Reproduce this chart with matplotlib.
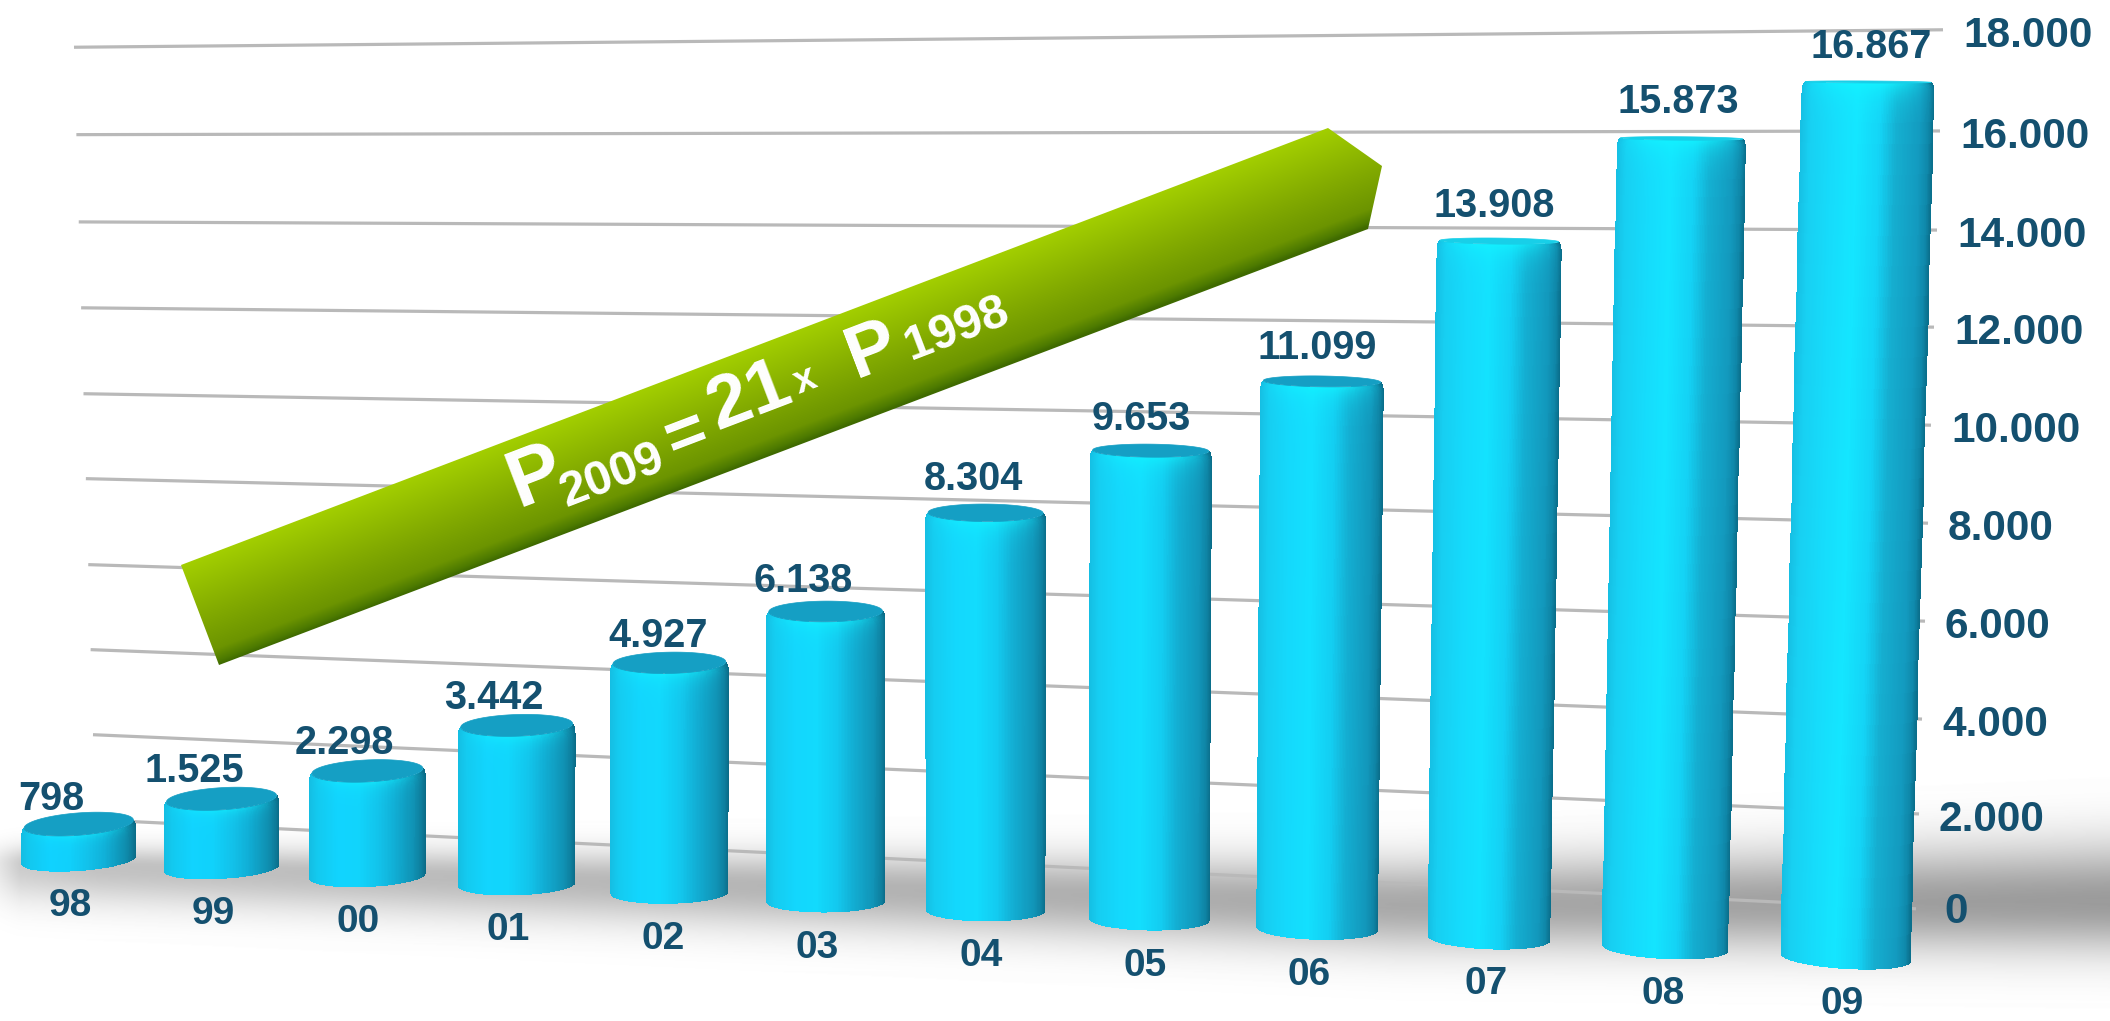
import numpy as np
import matplotlib
matplotlib.use("Agg")
import matplotlib.pyplot as plt
from matplotlib.colors import to_rgb
from matplotlib.patches import Polygon
from matplotlib.transforms import Transform

# ---------- data ----------
years = ["98", "99", "00", "01", "02", "03", "04", "05", "06", "07", "08", "09"]
values = [798, 1525, 2298, 3442, 4927, 6138, 8304, 9653, 11099, 13908, 15873, 16867]
value_labels = ["798", "1.525", "2.298", "3.442", "4.927", "6.138", "8.304", "9.653",
                "11.099", "13.908", "15.873", "16.867"]
axis_ticks = [0, 2000, 4000, 6000, 8000, 10000, 12000, 14000, 16000, 18000]
axis_tick_labels = ["0", "2.000", "4.000", "6.000", "8.000", "10.000", "12.000",
                    "14.000", "16.000", "18.000"]

# ---------- layout ----------
W, H = 2110, 1021
LABEL_DX = [-27, -27, -23, -23, -11, -22, -12, -9, -5, -5, -3, 3]
LABEL_DY = [25, 28, 28, 27, 27, 30, 34, 32, 33, 35, 36, 35]
CAT_DX = [-8, -8, -9, -8, -6, -8, -4, -4, -8, -2, -1, -3]
TEXT = "#14506f"
FONT = "Liberation Sans"
C = -0.011
A, B = 140.3, 78.5
WALL_LEFT_Y = [820, 735, 650, 565, 479, 394, 308, 222, 134.6, 47]
WALL_RIGHT_Y = [909, 814, 719, 621, 523, 425, 327, 230, 131, 30]


class BarProjection(Transform):
    """(category index, value) -> picture position in the perspective of the bars."""
    input_dims = output_dims = 2
    is_separable = False
    has_inverse = False

    def transform_non_affine(self, values):
        values = np.asarray(values, float)
        i, v = values[:, 0], values[:, 1]
        k = np.round(i)
        x = (A * i + B) / (1 + C * i) + np.maximum(0, k - 6.5) * 0.0003 * v
        base = 871 + 7.8 * k + 0.1 * k ** 2 - 11
        scale = 0.0450 + 0.0003 * k + 0.00003 * k ** 2
        return np.column_stack([x, base - scale * v])


class WallProjection(Transform):
    """(fraction along the wall, value) -> picture position of the slanted grid."""
    input_dims = output_dims = 2
    is_separable = False
    has_inverse = False

    def transform_non_affine(self, values):
        values = np.asarray(values, float)
        u, v = values[:, 0], values[:, 1]
        xl = 93 - (v - 2000) * 19 / 16000
        xr = 1916 + 0.0015 * v
        x = xl + u * (xr - xl)
        yl = np.interp(v, axis_ticks, WALL_LEFT_Y)
        yr = np.interp(v, axis_ticks, WALL_RIGHT_Y)
        return np.column_stack([x, yl + (x - 100) / 1820 * (yr - yl)])


def rgb_stops(stops, colors, u):
    arr = np.array([to_rgb(c) for c in colors])
    return np.stack([np.interp(u, stops, arr[:, n]) for n in range(3)], axis=-1)


fig = plt.figure(figsize=(W / 100, H / 100), dpi=100, facecolor="white")
ax = fig.add_axes([0, 0, 1, 1])
ax.set_axis_off()
bar_tr = BarProjection() + ax.transData
wall_tr = WallProjection() + ax.transData

# floor shadow
px, py = np.meshgrid(np.arange(W) + 0.5, np.arange(H) + 0.5)
amp = np.interp(px, [0, 20, 100, 2110], [0.10, 0.20, 0.24, 0.39])
yc = np.interp(px, [0, 1400, 2110], [864, 905, 902])
sig_t = np.interp(px, [0, 2110], [18, 58])
sig_b = np.interp(px, [0, 2110], [36, 50])
sig = np.where(py < yc, sig_t, sig_b)
grey = 1 - amp * np.exp(-((py - yc) / sig) ** 2)
ax.imshow(grey, cmap="gray", vmin=0, vmax=1, extent=(0, W, H, 0), aspect="auto",
          zorder=0, interpolation="bilinear")

# back wall grid
for t in axis_ticks:
    ax.plot([0, 1], [t, t], color="#b9b9b9", lw=2.3, transform=wall_tr, zorder=1,
            solid_capstyle="butt")
for t, lab in zip(axis_ticks, axis_tick_labels):
    ax.annotate(lab, xy=(1, t), xycoords=wall_tr,
                xytext=((20 if t else 28) * 0.72, (-6 if t else -3) * 0.72),
                textcoords="offset points", ha="left", va="center", fontsize=30.5,
                fontweight="bold", family=FONT, color=TEXT, zorder=6)

# cylinders
stops = [-1.0, -0.85, -0.5, -0.15, 0.2, 0.45, 0.8, 0.93, 1.0]
short_side = ["#14bde2", "#12c8ef", "#10d2ff", "#10d0fb", "#12bfe8", "#10b0d8", "#0f8fb0", "#0d7a98", "#0b6a85"]
tall_side = ["#16bfe3", "#18d0f2", "#16dcfb", "#14e6ff", "#14d4f6", "#15aed0", "#139abf", "#0f88aa", "#0a6f8c"]
theta = np.linspace(-np.pi / 2, np.pi / 2, 121)
u = np.sin(theta)
um = 0.5 * (u[:-1] + u[1:])
for i, (val, lab) in enumerate(zip(values, value_labels)):
    scale = 0.0450 + 0.0003 * i + 0.00003 * i ** 2
    narrow = np.interp(i, [0, 3, 5, 9, 11], [1.0, 0.985, 0.975, 0.96, 0.99])
    half = narrow * 57.5 * (1 + C * i) / (A - B * C)
    top_y = BarProjection().transform_non_affine(np.array([[i, val]]))[0, 1]
    semi_t = np.interp(top_y, [80, 240, 380, 450, 520, 620, 860],
                       [1, 3, 5.4, 6.5, 9, 10.5, 11.3])
    semi_b = 11.0
    tilt_b = -8 + 16 * i / 11
    tilt_t = tilt_b * semi_t / semi_b
    height = val * scale
    rows = np.unique(np.concatenate([np.linspace(0, height, 30),
                                     height - np.arange(0, 40, 1.0)]))
    rows = rows[rows >= 0]
    frac = rows / height
    semi = semi_b + (semi_t - semi_b) * frac
    tilt = tilt_b + (tilt_t - tilt_b) * frac
    V = (rows / scale)[:, None] - (semi[:, None] * np.sqrt(1 - u ** 2)[None, :]
                                   + tilt[:, None] * u[None, :] / 2) / scale
    round_top = 1 - 0.05 * np.exp(-(height - rows) / 2.5)
    X = i + u[None, :] * half * (1 + 1.5e-6 * (rows / scale))[:, None] * round_top[:, None]
    mix = i / 11
    side = (1 - mix) * rgb_stops(stops, short_side, um) + mix * rgb_stops(stops, tall_side, um)
    colours = np.repeat(side[None, :, :], len(rows) - 1, axis=0)
    depth = height - 0.5 * (rows[:-1] + rows[1:])
    reach = 5 + 10 * mix
    glow = np.exp(-depth / reach)[:, None] * (1 - um ** 2)[None, :] * (0.55 + 0.4 * mix)
    glow = glow[:, :, None]
    colours = colours * (1 - glow) + np.array(to_rgb("#12f2ff")) * glow
    ax.pcolormesh(X, V, colours, transform=bar_tr, shading="flat", zorder=2,
                  antialiased=False)
    ang = np.linspace(0, 2 * np.pi, 181)
    top_x = i + np.cos(ang) * half * (1 + 1.5e-6 * val) * 0.95
    top_v = val - (semi_t * np.sin(ang) + tilt_t * np.cos(ang) / 2) / scale
    face = "#159fc4" if semi_t > 4 else "#18cfe8"
    ax.add_patch(Polygon(np.column_stack([top_x, top_v]), closed=True, transform=bar_tr,
                         facecolor=face, edgecolor=face, lw=0.5, zorder=3))
    ax.annotate(lab, xy=(i, val), xycoords=bar_tr,
                xytext=(LABEL_DX[i] * 0.72, LABEL_DY[i] * 0.72), textcoords="offset points",
                ha="center", va="center", fontsize=28.5, fontweight="bold", family=FONT,
                color=TEXT, zorder=6)
    ax.annotate(years[i], xy=(i, 0), xycoords=bar_tr,
                xytext=(CAT_DX[i] * 0.72, -46 * 0.72), textcoords="offset points",
                ha="center", va="center", fontsize=28, fontweight="bold", family=FONT,
                color=TEXT, zorder=6)

# green banner
corners = [(181, 565), (1328, 128), (1382, 166), (1368, 229), (219, 665)]
nx, ny = 0.356, 0.935
t = ((px - 181) * nx + (py - 565) * ny) / 107.0
banner = rgb_stops([0, 0.5, 0.85, 0.96, 1.0],
                   ["#a3cf00", "#83ab00", "#6c9400", "#4d7a00", "#3f6a00"], np.clip(t, 0, 1))
im = ax.imshow(banner, extent=(0, W, H, 0), aspect="auto", zorder=4, interpolation="bilinear")
im.set_clip_path(Polygon(corners, closed=True, transform=ax.transData))

ROT = 20.9
for txt, x, y, size in [("P", 536, 478, 58), ("2009", 612, 476, 35), ("=", 686, 436, 50),
                        ("21", 749, 397, 54), ("x", 805, 381, 28), ("P", 872, 351, 54),
                        ("1998", 957, 329, 35)]:
    ax.text(x, y, txt, rotation=ROT, rotation_mode="anchor", ha="center", va="center",
            fontsize=size, fontweight="bold", family=FONT, color="white", zorder=5)

ax.autoscale(False)
ax.set_xlim(0, W)
ax.set_ylim(H, 0)
fig.savefig("out.png", dpi=100)
